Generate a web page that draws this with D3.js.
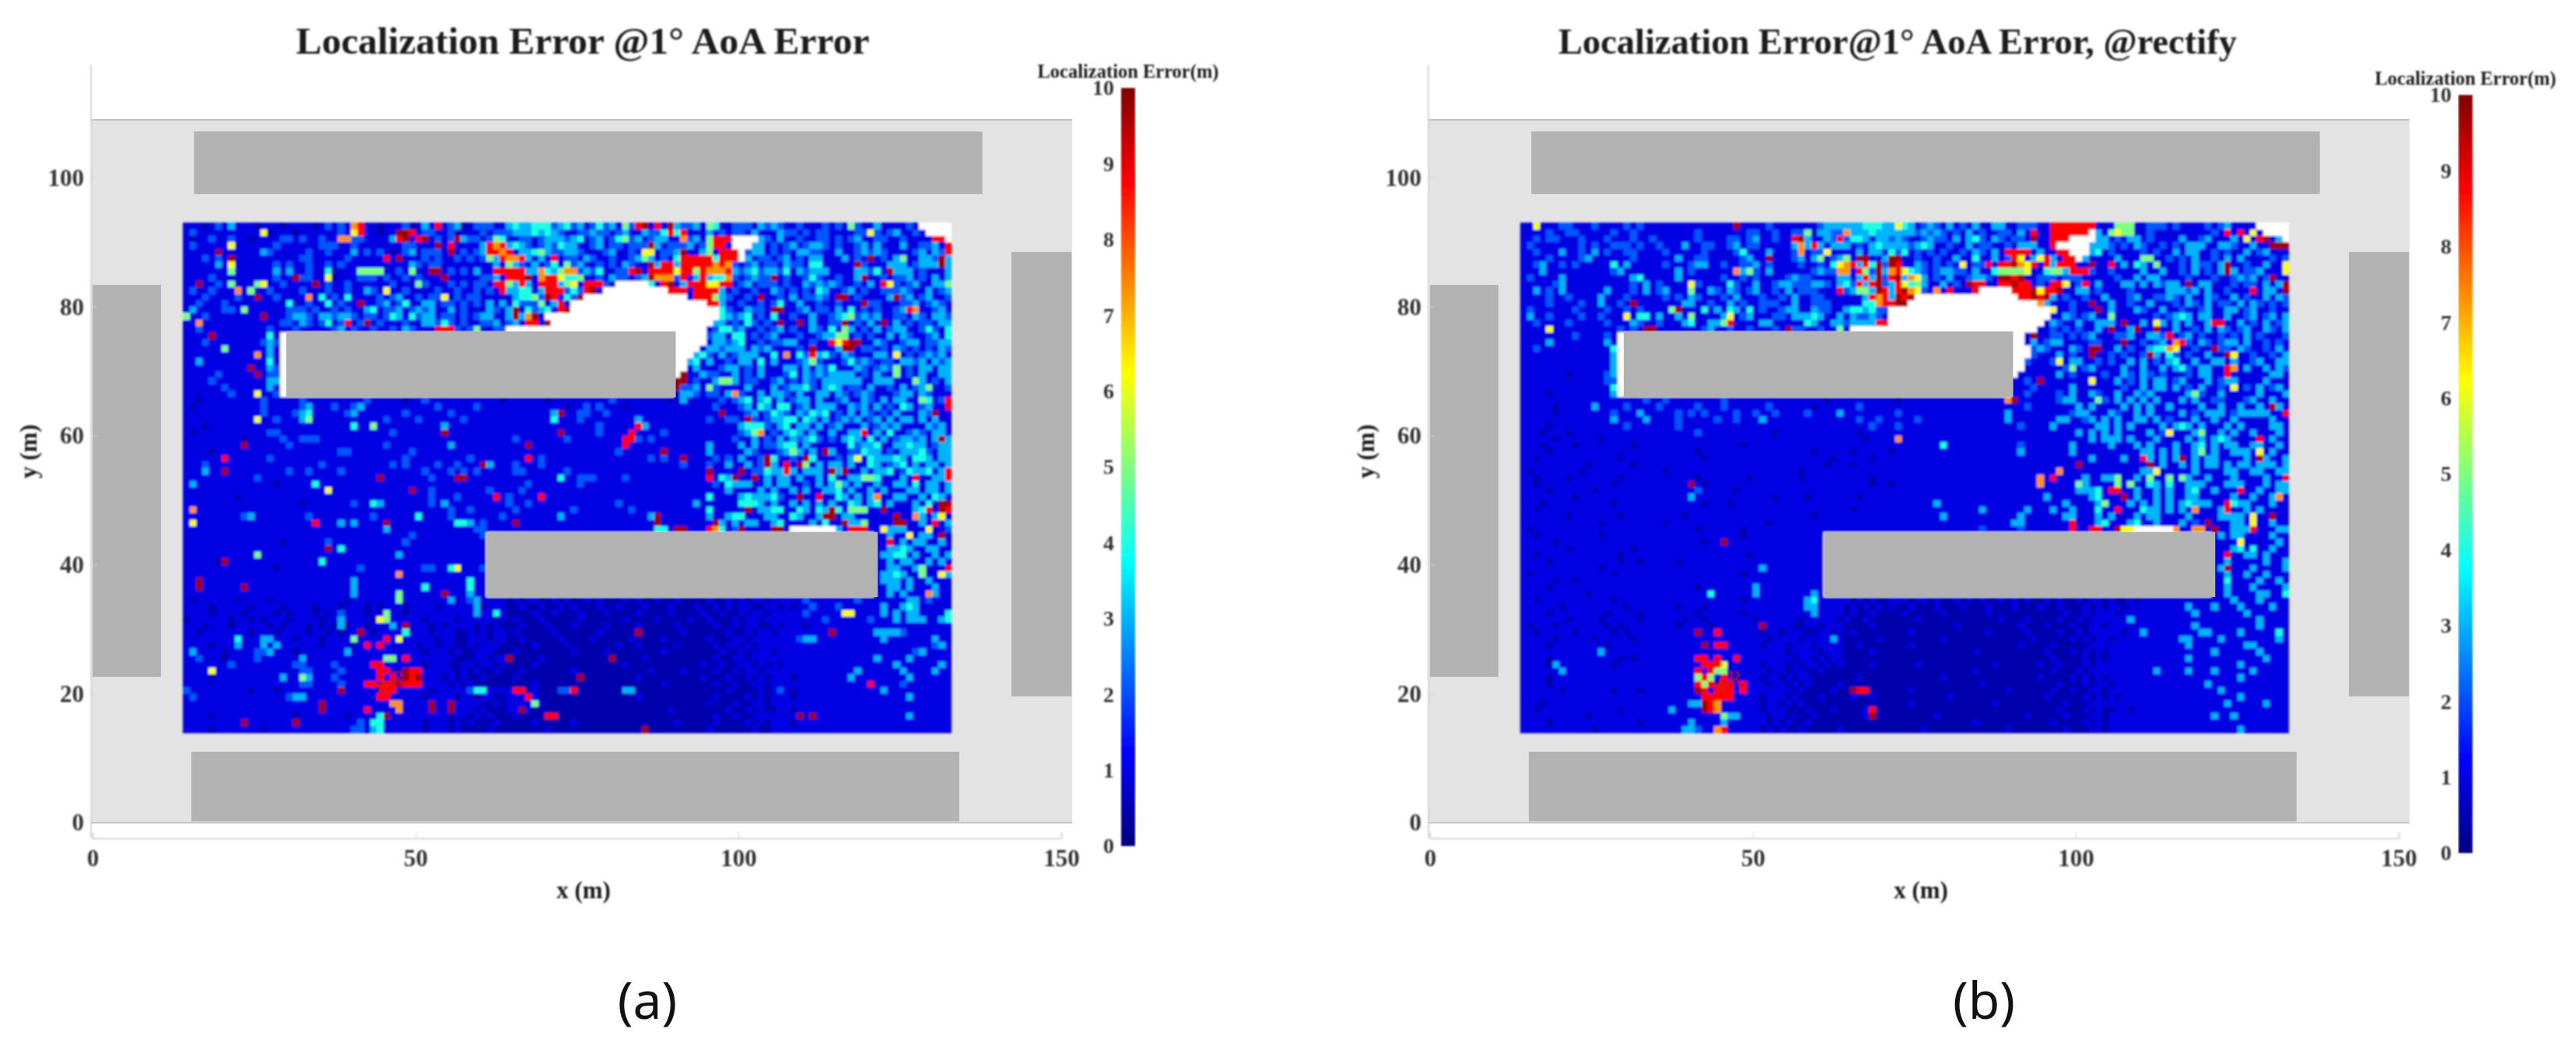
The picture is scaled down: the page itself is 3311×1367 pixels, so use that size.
<!DOCTYPE html>
<html>
<head>
<meta charset="utf-8">
<script src="https://d3js.org/d3.v7.min.js"></script>
<style>
  html, body { margin: 0; padding: 0; background: #fff; }
  svg { display: block; }
  text { font-family: "Liberation Serif", serif; font-weight: bold; fill: #1c1c1c; }
</style>
</head>
<body>
<script>
// error read per 1 m cell, row 0 is the top row (y = 92..93), col 0 is x = 14..15
// digit = colour level, . = no value. Groups of ten only for counting, spaces are dropped
const rowsA = [
"1110121311 1011101111 0121217811 0111201318 1230122211 3433444234 2312423152 8918193223 1541122213 2321121112 1215211311 1121.....",
"1211111111 1160111011 1111216811 0119981221 1201112122 2333434321 1223221231 1322484811 1312122131 1132212122 1111226212 31121....",
"1011211211 0111122121 1211772211 1138918912 1293221254 1122123332 3412312452 3123311723 15888....3 2131121122 1212311221 12111188.",
"1211111611 1111211111 1222112111 1111221119 1811113878 3432123243 3112312212 2293122231 25881...33 1212312332 1211231311 131122318",
"1111191111 1132111112 1121113121 2101231222 1912123887 8133453223 3211123112 1661223911 351888.233 1212133221 1311232321 111231328",
"1112121911 1111111122 1111121111 1819111212 1121212538 7783131812 2132112112 3531214888 884888.312 2123121331 1131219121 351133293",
"1111131611 1111212112 1121211111 1111132122 1111111131 5321312415 2311212132 1193883888 8878721231 2213221441 1111921113 331233393",
"1111111511 1111313112 1140111555 5112151199 1212131188 8883374357 7232411228 9188886885 8777832342 3324132333 1111332419 333121113",
"1111211111 1111211922 1160111222 1211212111 9111112231 8889178864 4511213221 2397772813 8344721232 2912112421 1211391121 223121313",
"1191121511 1561121111 9121121111 1121115211 1212122188 5383188835 6188821... ..41891388 8668812312 2212113232 3211213186 212311335",
"1211211171 5112111121 1121121132 1611211112 1121121218 3344138882 42891..... .....88818 8883121121 1321212143 1123121122 232113123",
"1112111121 1911211117 1412141111 2123112122 6121221111 1344529814 29........ ........18 8853211219 1121312232 1991211113 923123112",
"1121112111 1111114112 1141211911 2312411331 2212121313 1422251381 .......... .......... .883112112 1241131121 1211192211 122312321",
"1311112215 1111112221 2112121134 1223123231 1312111321 3914234189 .......... .......... ...4211322 1991123122 1314121211 238711231",
"5112111111 1191112332 1332332122 1243142331 2212123311 393791.... .......... .......... ...4323412 1411211311 2345232311 221321332",
"1171111111 1111122132 1241281291 2111211332 4212112231 2318819... .......... .......... ..33121421 2191191311 2291213191 312122133",
"1121111111 1112111211 1112312112 1121321118 8821251122 .......... .......... .......... .124423112 1231211321 4153121312 331124214",
"1111911111 11141..... .......... .......... .......... .......... .......... .......... .233144121 2311121123 3551212113 132112314",
"1112111111 11232..... .......... .......... .......... .......... .......... .......... .133234112 1223311211 8689911321 123312233",
"1111115111 11131..... .......... .......... .......... .......... .......... .......... 1332333132 3111121911 1399122121 321212132",
"1111111111 17131..... .......... .......... .......... .......... .......... .........3 4213123331 1417142834 2132111331 612123231",
"1131111111 11141..... .......... .......... .......... .......... .......... ........34 1311213314 1311123521 1124232122 133231323",
"1111111111 91132..... .......... .......... .......... .......... .......... ........13 1112331213 1113313132 4111321232 512133133",
"1111121111 19122..... .......... .......... .......... .......... .......... .......911 3221131213 1112413232 3333121311 512131133",
"1111211111 11133..... .......... .......... .......... .......... .......... ......9912 1135531221 1231213213 3333311333 111531213",
"1111112111 11131..... .......... .......... .......... .......... .......... ......9223 1521111311 1312334213 4312213112 131235112",
"1111111211 16112..... .......... .......... .......... .......... .......... ......1332 1221372113 1332131133 1321232111 233132111",
"1101111111 1121111121 1111111121 1111011211 1111111110 1111110111 1111112111 1111101311 1112123413 4131233131 1231132131 331154128",
"1011111111 1121111123 1112112311 1111111112 1111121111 1111111110 1121211101 1111111111 1121112314 3144123133 3113231312 143123118",
"1111111111 1121111234 1111123111 1111211111 1211111111 1111111391 1221121111 1111111111 1119111231 2432132434 1213132121 311132911",
"1111111111 1611211135 1111111111 1211112111 1112111111 1111111411 1211111111 3111111111 1211221921 2334414313 1232312313 133131311",
"1110111111 1111111111 1111114115 1111111111 3111111111 1111111111 1111211111 8311111111 1111113444 2134133131 2311131232 311113231",
"1011111111 1112211111 1111111111 1121111111 9111111111 1111111191 1111211118 1111211111 1111112357 1213431311 3113381314 112321331",
"1111111110 1111121122 2111111111 1111111111 1111111111 1211111112 1111111188 2121111111 1111121131 2131323421 2134314131 233231393",
"1111111119 1111112111 1111111111 1211111111 1311111111 1119111111 1111111181 1111111111 1311113131 2234413111 1114233411 334331233",
"1111011111 1111111111 1111221111 1111121111 1111111111 1111111111 1111111211 1111911111 1311111321 1123531319 3112243312 133342133",
"1111118111 1112111111 1111111111 1111211111 1111211111 1118121111 1111111111 1121211911 1121213112 9411219411 1213614333 431443133",
"1112111111 1111111111 1211111111 1121211112 1121119311 1211121111 1111111111 1111111211 1211311312 9318195131 3313114312 341313313",
"1113119111 1111112112 1111211111 1111111211 1212121111 1221111112 1111111111 1111111111 1911119122 4338313331 9391131334 124334138",
"1111111111 1211111111 1111111111 9111111121 1199111111 1111111141 1222111121 1111111111 1814391191 3133131131 4113355411 131811338",
"1311111111 1111011111 4111111111 1111111111 1111111111 1112111111 1211111111 1111111111 1121433311 3133112131 3531311311 331413313",
"1111111111 1111111111 1161111111 1111191121 1111111211 1121111111 1111111111 1111111111 1111311113 1311313113 3413113131 113313313",
"1111111101 1111111111 1111111111 1111111121 1121111181 2111181111 1111111111 1111111111 1411113433 3421191181 1431313711 331131431",
"1111111111 1111111101 1111112114 3111111121 3111111111 2112111111 1111111211 1111111113 1111114443 1311313131 3114313413 111314199",
"1711111111 1111111111 1111111111 1111111111 1211211111 1211111111 2111111112 1111111111 1411111913 3441143143 9415551191 111348198",
"1111111112 3111111112 1111111112 1111114111 1211111112 1111111131 1111111111 1139111111 1311344111 3311431139 9133111111 911731361",
"1611111111 1111111111 8111313111 1911111111 1144312111 1911111111 1111111111 1119111111 1193131331 1341111314 1193351111 991131813",
"1111111111 1111111111 1111111111 1311111111 1111122111 1111111111 1111111111 1114419911 1874129111 1991...... .318881163 331116112",
"1111111111 1111111111 1111111111 1111121111 1111112... .......... .......... .......... .......... .......... .......113 116133191",
"1111111111 1111101111 1121111111 1111211111 1111111... .......... .......... .......... .......... .......... .......118 131331131",
"1111111111 1111111111 1191411111 1111111111 1111111... .......... .......... .......... .......... .......... .......113 343113311",
"1111111111 1511111111 1111111111 1113111111 1111111... .......... .......... .......... .......... .......... .......133 441311313",
"1111109111 1111111111 1411111111 1111111111 1111111... .......... .......... .......... .......... .......... .......113 133113131",
"1111111111 1111011111 1111111211 1111111221 1461112... .......... .......... .......... .......... .......... .......113 311351118",
"1111111111 1111111111 1111111111 1117111111 1111111... .......... .......... .......... .......... .......... .......133 431151163",
"1191111111 1111111111 1111113111 1111111111 1111411... .......... .......... .......... .......... .......... .......133 313113111",
"1191111119 1111111111 1111113111 1111111411 1111411... .......... .......... .......... .......... .......... .......113 313111311",
"1111111111 1111111111 1111113111 1115111111 9111311... .......... .......... .......... .......... .......... .......113 131117311",
"1011111101 1110111111 1111101111 1115111111 1311231111 0101100101 0010100010 1001001000 0100101011 0111112111 1111211111 113312111",
"1111011111 0111101111 0111011101 0111011110 1111130111 0010010010 1000100100 0100010001 0010101100 1101011211 1211111131 134311111",
"1111011110 1111010111 0101211101 1511011111 1111131141 0000100100 0100010000 1000010000 1001001011 0111112111 1166111131 313311114",
"0111111011 0101110111 1011311110 6511111011 1101111101 0100010000 0100000010 0001000010 0100010110 1111111112 1111112111 313331134",
"1110111011 1110101110 1010301101 1131911101 0111101010 0010001000 1000010000 1000001000 0010010110 0101110111 1111111111 111111111",
"1101111111 0111011110 1101011910 1111411101 1100101011 0100000100 0000100000 9000000100 0000100101 1011111111 9111111333 321111111",
"1111111141 1133111011 1011115111 1816111110 1100111011 0010000010 0001000001 0000100000 0100011011 1111123311 1111111131 111111311",
"1111011131 1131311111 1011110181 8111110110 1100101110 0000100001 0000000100 1000001000 0010110101 1111111111 1111111111 111111231",
"1311110111 1223111011 1111131111 1111111011 1010011100 0100000000 1000010000 0000100000 0001001011 1011111111 1111111111 111231111",
"1121110111 1211111131 1111111111 1551811111 1100011011 9000010000 0000009000 0100000000 0010011011 1111111111 1111111311 113111111",
"1111111211 1111111221 1112111118 8111111011 1001101101 0000100000 0000000010 0000000000 1001001101 0101111111 1111111111 311111131",
"1111611111 1111111122 1111211111 8811988111 1101010010 0010000000 1000000000 0010000100 0010010110 1111111111 1111311111 131111311",
"1111011111 1111131153 1112111111 8181989111 0101001000 0100000000 0900000000 1000000000 1000100101 0111011111 1113111111 113111111",
"1111111111 1111111122 1111211188 1889888111 1010100000 0000100000 0000000000 0000100000 0010010011 0111111111 1111118111 121111111",
"2111111111 0111011111 1111911111 1881111101 1111244111 1880100022 8000000033 0000000000 0000100001 0121011111 1111111131 111111111",
"1211111111 1111112331 1111111111 8811111011 1101101100 1118100000 0000000000 1000000000 0010000101 0111011111 1111111111 113111111",
"1111111111 1111111111 1911111111 1177111191 1911110010 1111510000 0000000000 0000000000 0100010011 0111111111 1111111111 111111111",
"1111111111 1111111111 1911111181 1117111191 1911101000 1191000000 0000000000 0000010000 0000100101 0011011111 1111111111 111111111",
"1111011111 1111111011 1111101111 4911111111 1011010100 0100008800 0000000000 0000000000 0010010011 1111191911 1111111111 113111111",
"1111111119 1111111911 1111111214 4111111011 1010100010 0000100000 1000000000 0000001000 0010000101 0111011111 1111111111 111111111",
"1111011111 1101111111 1111112213 4111111011 1010000100 0000001000 0000000000 0900000000 0100000010 0111111111 1111111111 111111111"
];

const rowsB = [
"1161112211 1211112121 1111111111 1119111121 1111112333 3334443364 3123213121 3113311222 1188888881 1155511222 1211112123 1111.....",
"1111211221 1111211211 1111111211 1111122112 1122513322 7333433333 3232321213 1211221318 11888888.3 1565511211 1111111218 18161....",
"1121221112 1112111211 2111111211 1122123112 1189311328 2443133232 1123221313 4213212219 11888....3 3121331211 1131123111 31618913.",
"1211111112 1211222121 1211131122 1123122111 1137383133 3121343333 2343112113 1221121333 118.....33 3212132112 1213331133 211311999",
"1121113112 1312112211 1121111121 1112411131 1127122611 1131331424 1212121121 3213188881 31188...34 1211112121 1313311212 113123111",
"1111211112 3111111211 1111311221 1111231191 1123135123 5199113991 1211211311 4113128613 683188.311 1131115511 2121311213 131111212",
"1123112121 1111413111 1121112331 1211223121 1112112146 7838492981 1321212161 2281889768 1838881191 1813143151 1121322139 112113116",
"1113111111 1111231111 1111312111 1117352131 1111123227 7185293786 4321233221 3114555561 1455388821 1211113113 1121312139 312231116",
"1211113111 1111111341 1111311111 1211212111 1232211113 3138392893 7631213112 3321998911 2221222111 1121131331 1112111211 232312911",
"1111123111 1111111213 1211116211 1142113112 3322233213 4283892386 4531131219 8811889881 2188612813 1113313132 3319133111 212213139",
"1131213111 1113111213 1231115113 2132123112 1312221118 2355398389 7621718111 8.....8889 6889113312 1111211111 3332313112 1118133193",
"1111211211 1131112111 1121213211 1213111211 2131122111 1113878398 9......... .......889 8931211211 3111231122 3213113211 312113132",
"1111211112 1131121911 1111133112 1131211222 1131122211 1114478899 .......... .......... 7311121191 1311211311 1213213122 131321212",
"1211111121 1112112121 1115911141 3143141211 2331132211 3443422... .......... .......... ..61121119 1311132113 1121123113 312311211",
"1311211112 1121116144 1311315111 1361231112 2133343113 1322321... .......... .......... ..11321231 1511111121 2343133113 112312313",
"1121111211 1112111321 1211134113 3581111331 1111431133 2333388... .......... .......... .132113113 3319113163 1313113881 131213123",
"1111611111 1111121219 9111111123 1121121112 1922112115 1......... .......... .......... 1121212113 1911391191 1311213132 123113213",
"1111111121 11121..... .......... .......... .......... .......... .......... ........19 1122121231 1122311332 8123121121 213121112",
"1111311111 11131..... .......... .......... .......... .......... .......... ........13 1233111122 1119112123 1782132123 313112121",
"1121111111 11114..... .......... .......... .......... .......... .......... .........2 3211132199 1131211344 7611211922 132112131",
"1111111111 11113..... .......... .......... .......... .......... .......... .........2 1113121191 1212112931 4212113119 611211213",
"1111111111 11113..... .......... .......... .......... .......... .......... ........21 1126133112 1211313121 3411311331 311231133",
"1111111111 11113..... .......... .......... .......... .......... .......... ........11 1111251231 1113113113 1342133118 713113132",
"1111111011 11123..... .......... .......... .......... .......... .......... .......111 1113121111 2113213212 1112133118 111111331",
"1111111111 11122..... .......... .......... .......... .......... .......... ......1121 9111111161 1131213133 1231113123 311113111",
"1111111111 11114..... .......... .......... .......... .......... .......... ......1112 1111131111 1112113133 1312131121 612131231",
"1111011111 11113..... .......... .......... .......... .......... .......... ......1121 1112131132 1131132311 1113521131 111131113",
"1111111111 1111111112 1121111111 1211111111 1111111011 1111111101 1111111111 1111179111 1112331115 2131313131 1131311221 112311311",
"1111101111 1311112111 1211111211 1211111121 1111101111 1121111111 1111111111 1111111121 1111113131 1113131311 3111131131 131131931",
"1111101111 1111211131 1111212121 1112112112 1111211113 1111111121 1111111111 1111131111 1111123311 1321131311 1131213331 233333118",
"1111111111 1111311113 1111211111 2112111311 1111111111 1121121111 1211111111 1111131111 1113311231 3131133131 2111311311 311111311",
"1111011111 1111112111 1111211111 1111111111 1111111111 1111211121 1111111111 1111111211 1131111113 3131311113 1343131113 131111331",
"1110111011 1111111111 1111111211 1111111110 1111111111 1101111111 1111111111 1111111111 1111113131 3131111312 6111351131 311311131",
"1111101111 1101111111 1111111111 1111111111 1111111111 1110111171 1111111111 1111111111 1111111131 3331311131 1113131343 111181311",
"1110111101 1111111011 1111111111 1111011111 1111111111 1111111111 1111141111 1111111211 1111131111 1311131311 1311341313 311331131",
"1111011111 1111111111 1111111011 1111111111 1111101111 1011111011 1111111111 1111111311 1111131111 1111113313 1311351311 333161311",
"1101111111 1111101111 1111111101 1111111111 1111111101 1111011111 1111111111 1111111111 1111111131 1113118313 1391313311 113193113",
"1111111111 0111111011 1111111111 1111111111 1111111011 1011111111 1111111111 1111111111 1111119111 1111111913 1131313313 133133313",
"1011111110 1111111111 1101111111 1111111111 1110111111 1111111111 1111111111 1111111111 1117111111 1111113361 1111311113 311331133",
"1101111011 1111101111 1111111011 1111101111 1110111111 1111011111 1111111111 1111111111 7181111311 3351131511 5153113111 311113118",
"1101111111 1111011111 1111119101 1111111111 1111111111 1111011011 1111111111 1111111111 7111115311 1151511431 4113331113 331113133",
"1111011111 1011111111 1111111211 1110111111 1111111111 1111111111 1111111111 1111111111 1111113334 1881131131 3113411311 181131133",
"1111111101 1111111111 1111113111 1111111110 1111011111 1101111111 1111111111 1111111111 1311111134 1119131131 3113311111 311311371",
"1110111111 1111011111 1111111101 1101111111 1111111111 1111111111 1111311111 1111111111 1111311113 5111313131 3134333118 433111311",
"1101111111 1111111111 1111111111 1111111111 1111111111 1011111111 1111111111 1311111131 1131131114 1181114331 3131711138 113131111",
"1111111011 1111101111 1111101111 1111111111 1111101111 1111111111 1111131111 1111111311 1111331113 1311131331 1113111133 331611911",
"1111111111 1101111111 1101111111 1111111101 1111111111 1111111111 1111111111 1111113311 1111181113 4111341131 1131219111 331611311",
"1011111111 1111111111 1111111011 1111011111 1111111111 1111111111 1111111111 1211111211 1111181188 1196 6..... .711771911 333811133",
"1101111111 1101111111 1111111111 1111011111 1111111... .......... .......... .......... .......... .......... .......131 331111311",
"1111101111 1111111111 1111111101 1911111111 1111111... .......... .......... .......... .......... .......... .......111 161111131",
"1111111011 1111111011 1111111111 1111111111 1111111... .......... .......... .......... .......... .......... .......111 341411311",
"1101111111 1111101111 1111111111 1111101111 1111111... .......... .......... .......... .......... .......... .......118 113313111",
"1111011111 1111101101 1111011111 1111111111 1111111... .......... .......... .......... .......... .......... .......113 111113113",
"1111111111 1101111111 1111111111 1111111311 1111111... .......... .......... .......... .......... .......... .......139 111311113",
"1011111111 1111011111 1111111111 1111011111 1111111... .......... .......... .......... .......... .......... .......113 113113111",
"1111101101 1111111111 1111111111 1111111111 1111111... .......... .......... .......... .......... .......... .......114 111131131",
"1111011111 1111111111 1111111011 1111113111 1111111... .......... .......... .......... .......... .......... .......113 111311113",
"1111111111 0111111111 1111111114 1111113111 1111131... .......... .......... .......... .......... .......... .......113 111133114",
"1101111111 1111011111 1111111111 1111011111 1111341111 1010100111 0110100101 0100101010 0101001011 0100101111 1111111111 311131111",
"1111110111 1111110111 1111011101 1111111111 1111331111 0101010100 1000100010 0010001000 1001000101 0110111111 1113111311 131111311",
"1111011111 1110111101 1111111011 1111011111 1111131111 0100100001 0000010000 0010000000 0000100101 1101111111 1111311111 113111111",
"1111111011 1101111101 1111101101 1111110111 1110111110 1001000000 0100000000 0000100010 0001001011 1111311111 1111111111 111131111",
"1011101111 1110101111 1111011110 1111111911 1100110111 0000100000 0000000100 0000000100 0100010011 0111111111 1111311111 111131111",
"1101111101 1111010111 1111111911 8111111011 0111001101 0100000000 1000000000 0010000010 0001001011 1110113111 1111133111 131111141",
"1111101111 1011111011 1111111111 1111111101 1110111131 0000010000 0000010000 0000000001 0000010101 1011111111 1133111131 111111131",
"1111011111 1110111111 1111111191 8811111011 1011101111 0010000000 1000000000 0000000100 0010000011 1111111111 1113111111 113311111",
"1111111111 1131111111 1111111111 1111111111 1011110111 0000100000 0000000000 1000000000 0100010101 0111111111 1111111311 111131111",
"1111011111 1111101011 1111111881 8118111111 1101101011 0000000000 0000000000 0000000000 0010000101 0111111111 1113111111 111113111",
"1111031111 1111011111 1111111188 8611111011 1010110101 0000100000 0100000000 0001000000 1001000101 1111111111 1111111111 131111111",
"1111113111 1111111111 1111111818 5511111101 1011001000 0000000000 0000000000 1000000000 0010001011 1111111131 1113111311 111311111",
"1111011111 1111111111 1111111585 1811111011 0101100000 0010000000 0000010000 0000000000 1000010101 0111111111 1111111111 131111111",
"1111011111 1111111111 1111111858 1881811101 1010100001 0000000000 0000000000 0100000000 0001000101 1011111111 1111113111 111111111",
"1111110111 1111011101 1111111981 8881811111 1101000010 0988000000 1000000000 0000010000 0010010011 0111111111 1111111131 111111111",
"1111111111 1111111111 1111111188 8881111011 1010001000 0100100000 0000001000 0000000000 0100000101 0101111111 1111111111 131111111",
"1110111111 1111111111 1111113398 7111111011 0101000000 0000000000 1000000000 0001000000 0000100011 1111111111 1111111113 111113111",
"1101111111 1111101111 1113111198 7111111011 1000100010 0001800000 0000000000 0000000000 0001000101 0011011111 1111111111 111111111",
"1111111111 0111111111 1111111111 1533111101 1010010000 0001900000 0000100000 0000000010 0000100011 0111111111 1111111311 311111111",
"1111011111 1111111101 1111113111 1311111101 0100100000 0000000000 0000000000 1000000000 0010000101 0111111111 1111111111 111111111",
"1111111111 1011111111 1111133211 7811111010 1001000001 0000000000 0010000000 0000010000 0000100011 0111111111 1111111111 131111111"
];

const xTicks = [0, 50, 100, 150];
const yTicks = [0, 20, 40, 60, 80, 100];
const cbTicks = d3.range(0, 11);
const xDomain = [0, 150];
const yDomain = [0, 100];
// colour level of each digit, in metres of error
const levels = [0.45, 0.98, 2.1, 3, 4, 5, 6.2, 7.3, 8.7, 9.7];
// buildings in metres: x0, x1, y0, y1
const buildings = [
  [15.7, 137.8, 97.5, 107.2],
  [15.3, 134.2, 0.2, 11],
  [0, 10.6, 22.6, 83.4],
  [142.3, 151.6, 19.6, 88.5],
  [30, 90.3, 66, 76.2],
  [61, 121.6, 35, 45.1]
];
const receiver = [45, 21];
const panels = [
  { rows: rowsA, title: "Localization Error @1\u00b0 AoA Error", titleSize: 49.5, titleX: 749, tag: "(a)", dx: 0, cbY: 0, tagX: 832 },
  { rows: rowsB, title: "Localization Error@1\u00b0 AoA Error, @rectify", titleSize: 46.5, titleX: 2439, tag: "(b)", dx: 1719, cbY: 9, tagX: 2550 }
];

const width = 3311, height = 1367;
// jet colormap
const jet = d3.scaleLinear()
  .domain([0, 1.25, 3.75, 6.25, 8.75, 10])
  .range(["#00007f", "#0000ff", "#00ffff", "#ffff00", "#ff0000", "#7f0000"])
  .clamp(true);

const svg = d3.select("body").append("svg").attr("width", width).attr("height", height);
const defs = svg.append("defs");
const soft = defs.append("filter").attr("id", "soft").attr("x", "-2%").attr("y", "-2%").attr("width", "104%").attr("height", "104%");
soft.append("feGaussianBlur").attr("stdDeviation", 1.7);
const softText = defs.append("filter").attr("id", "softText").attr("x", "-5%").attr("y", "-20%").attr("width", "110%").attr("height", "140%");
softText.append("feGaussianBlur").attr("stdDeviation", 0.8);

const grad = defs.append("linearGradient").attr("id", "jetGrad")
  .attr("x1", "0%").attr("y1", "100%").attr("x2", "0%").attr("y2", "0%");
grad.selectAll("stop").data(jet.domain()).enter().append("stop")
  .attr("offset", d => d * 10 + "%")
  .attr("stop-color", d => jet(d));

panels.forEach(p => {
  const x = d3.scaleLinear().domain(xDomain).range([119 + p.dx, 1364 + p.dx]);
  const y = d3.scaleLinear().domain(yDomain).range([1057, 228.5]);
  const cb = d3.scaleLinear().domain([0, 10]).range([1087 + p.cbY, 113 + p.cbY]);
  const g = svg.append("g");

  // floor and frame
  const frameL = x(0) - 2, frameR = x(151.7);
  g.append("rect").attr("x", frameL).attr("y", y(109)).attr("width", frameR - frameL).attr("height", y(0) - y(109)).attr("fill", "#e3e3e3");
  g.append("line").attr("x1", frameL).attr("x2", frameR).attr("y1", y(109)).attr("y2", y(109)).attr("stroke", "#c4c4c4").attr("stroke-width", 2);
  g.append("line").attr("x1", frameL).attr("x2", frameR).attr("y1", y(0)).attr("y2", y(0)).attr("stroke", "#c4c4c4").attr("stroke-width", 2);

  // heat cells
  const cells = [];
  p.rows.forEach((r, row) => {
    r.replace(/ /g, "").slice(0, 119).split("").forEach((c, col) => {
      cells.push({ x: 14 + col, y: 92 - row, v: c === "." ? null : levels[+c] });
    });
  });
  const heat = g.append("g").attr("filter", "url(#soft)");
  heat.selectAll("rect").data(cells).enter().append("rect")
    .attr("x", d => x(d.x))
    .attr("y", d => y(d.y + 1))
    .attr("width", x(1) - x(0) + 0.5)
    .attr("height", y(0) - y(1) + 0.5)
    .attr("fill", d => d.v === null ? "#fff" : jet(d.v))
    .attr("shape-rendering", "crispEdges");

  // buildings
  g.selectAll(".building").data(buildings).enter().append("rect")
    .attr("class", "building")
    .attr("x", d => x(d[0]))
    .attr("y", d => y(d[3]))
    .attr("width", d => x(d[1]) - x(d[0]))
    .attr("height", d => y(d[2]) - y(d[3]))
    .attr("fill", "#b2b2b2");

  const tg = g.append("g").attr("filter", "url(#softText)");

  // receiver marker
  tg.append("path")
    .attr("d", d3.symbol(d3.symbolStar, 240))
    .attr("transform", `translate(${x(receiver[0])},${y(receiver[1])})`)
    .attr("fill", "#f00c0c");
  tg.append("text")
    .attr("x", x(receiver[0]) + 9)
    .attr("y", y(receiver[1]) - 3)
    .attr("font-size", 28)
    .style("font-weight", "normal")
    .style("fill", "#d01020")
    .text("R");

  // axes
  const xAxis = tg.append("g").attr("transform", `translate(0,1077)`)
    .call(d3.axisBottom(x).tickValues(xTicks).tickSize(-8).tickPadding(14));
  xAxis.select(".domain").attr("stroke", "#d4d4d4").attr("stroke-width", 2);
  xAxis.selectAll(".tick line").attr("stroke", "#d4d4d4");
  xAxis.selectAll("text").attr("font-size", 31).style("fill", "#333");
  xAxis.attr("font-family", null);

  const yAxis = tg.append("g").attr("transform", `translate(${frameL},0)`)
    .call(d3.axisLeft(y).tickValues(yTicks).tickSize(-8).tickPadding(9));
  yAxis.select(".domain").remove();
  yAxis.selectAll(".tick line").attr("stroke", "#d4d4d4");
  yAxis.selectAll("text").attr("font-size", 31).style("fill", "#333");
  yAxis.attr("font-family", null);
  tg.append("line").attr("x1", frameL).attr("x2", frameL).attr("y1", 83).attr("y2", 1077).attr("stroke", "#d4d4d4").attr("stroke-width", 2);

  // titles
  tg.append("text").attr("x", p.titleX).attr("y", 58).attr("text-anchor", "middle").attr("dominant-baseline", "middle")
    .attr("font-size", p.titleSize).text(p.title);
  tg.append("text").attr("x", 750 + p.dx).attr("y", 1147).attr("text-anchor", "middle").attr("dominant-baseline", "middle")
    .attr("font-size", 31).text("x (m)");
  tg.append("text").attr("transform", `translate(${40 + p.dx},580) rotate(-90)`).attr("text-anchor", "middle").attr("dominant-baseline", "middle")
    .attr("font-size", 31).text("y (m)");

  // colour bar
  g.append("rect").attr("x", 1441 + p.dx).attr("y", cb(10)).attr("width", 18).attr("height", cb(0) - cb(10))
    .attr("fill", "url(#jetGrad)").attr("filter", "url(#softText)");
  const cbAxis = tg.append("g").attr("transform", `translate(${1441 + p.dx},0)`)
    .call(d3.axisLeft(cb).tickValues(cbTicks).tickSize(0).tickPadding(9));
  cbAxis.select(".domain").remove();
  cbAxis.selectAll("text").attr("font-size", 28).style("fill", "#333");
  cbAxis.attr("font-family", null);
  tg.append("text").attr("x", 1450 + p.dx).attr("y", 94 + p.cbY).attr("text-anchor", "middle").attr("dominant-baseline", "middle")
    .attr("font-size", 24.5).text("Localization Error(m)");

  // sub-figure tag
  g.append("text").attr("x", p.tagX).attr("y", 1291).attr("text-anchor", "middle").attr("dominant-baseline", "middle")
    .attr("font-size", 66).style("font-family", '"Noto Sans", sans-serif').style("font-weight", "normal").style("fill", "#111")
    .text(p.tag);
});
</script>
</body>
</html>
